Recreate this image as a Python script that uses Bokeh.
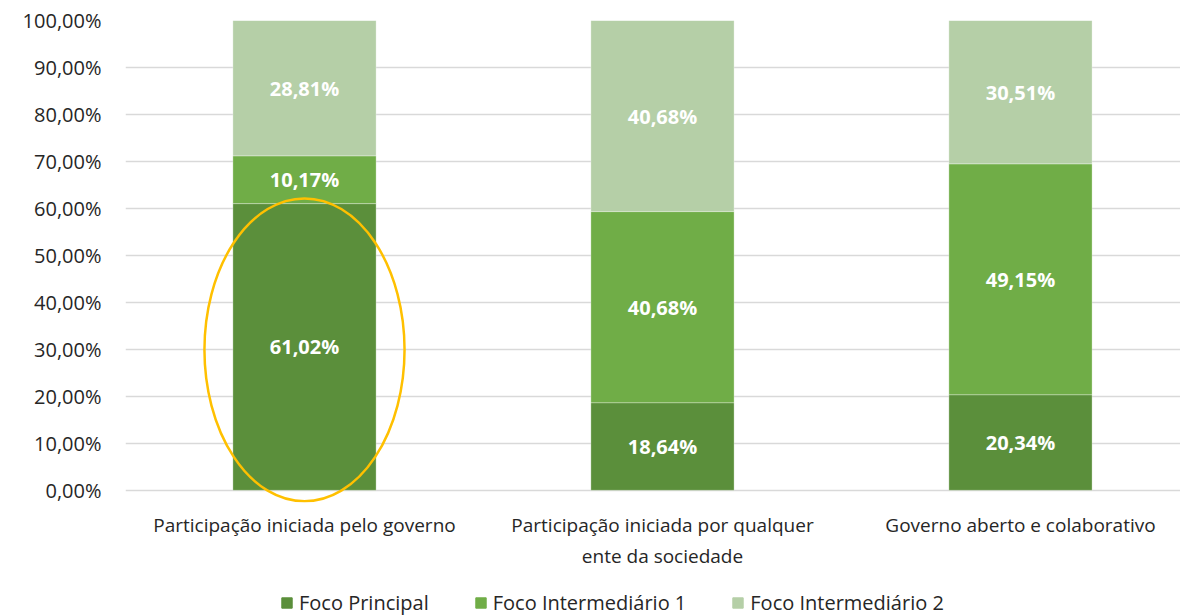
from bokeh.plotting import figure
from bokeh.models import (ColumnDataSource, Range1d, FixedTicker, Legend, LegendItem,
                          CustomJSTickFormatter)
from bokeh.layouts import column
from bokeh.core.properties import value
from bokeh.embed import file_html
from bokeh.resources import INLINE

categories = ["Participação iniciada pelo governo",
              "Participação iniciada por qualquer\nente da sociedade",
              "Governo aberto e colaborativo"]
series_names = ["Foco Principal", "Foco Intermediário 1", "Foco Intermediário 2"]
foco_principal = [61.02, 18.64, 20.34]
foco_intermediario_1 = [10.17, 40.68, 49.15]
foco_intermediario_2 = [28.81, 40.68, 30.51]
y_ticks = [0, 10, 20, 30, 40, 50, 60, 70, 80, 90, 100]

colors = ["#5B8F3B", "#70AD47", "#B5CFA7"]
FONT = "Open Sans"
TXT = "#262626"

xs = list(range(len(categories)))
src = ColumnDataSource(dict(x=xs, s0=foco_principal, s1=foco_intermediario_1, s2=foco_intermediario_2))

p = figure(width=1180, height=571, output_backend="svg", toolbar_location=None,
           x_range=Range1d(-0.5, 2.447), y_range=Range1d(-2.6, 100),
           min_border_left=125, min_border_right=0, min_border_top=20, min_border_bottom=68)
p.outline_line_color = None
p.background_fill_color = "white"

rs = p.vbar_stack(["s0", "s1", "s2"], x="x", width=0.4, source=src, color=colors,
                  line_color="white", line_width=0.6, line_alpha=0.5)

# data labels
lx, ly, lt = [], [], []
for i in xs:
    base = 0.0
    for vals in (foco_principal, foco_intermediario_1, foco_intermediario_2):
        v = vals[i]
        lx.append(i)
        ly.append(base + v / 2)
        lt.append(("%.2f" % v).replace(".", ",") + "%")
        base += v
p.text(x=lx, y=ly, text=lt, text_align="center", text_baseline="middle",
       text_color="white", text_font=value(FONT), text_font_style="bold", text_font_size="20px")

# highlight ellipse
p.ellipse(x=[0], y=[29.9], width=0.559, height=64.5, fill_alpha=0,
          line_color="#FFC000", line_width=2.5)

# axes
p.yaxis.ticker = FixedTicker(ticks=y_ticks)
p.yaxis.formatter = CustomJSTickFormatter(code="return tick.toFixed(2).replace('.', ',') + '%';")
p.yaxis.axis_line_color = None
p.yaxis.major_tick_line_color = None
p.yaxis.minor_tick_line_color = None
p.yaxis.major_tick_out = 0
p.yaxis.major_label_standoff = 24
p.yaxis.major_label_text_font = FONT
p.yaxis.major_label_text_font_size = "20px"
p.yaxis.major_label_text_color = TXT

p.xaxis.ticker = FixedTicker(ticks=xs)
p.xaxis.major_label_overrides = {i: c for i, c in zip(xs, categories)}
p.xaxis.axis_line_color = None
p.xaxis.major_tick_line_color = None
p.xaxis.minor_tick_line_color = None
p.xaxis.major_tick_out = 0
p.xaxis.major_label_standoff = 9
p.xaxis.major_label_text_font = FONT
p.xaxis.major_label_text_font_size = "19px"
p.xaxis.major_label_text_color = TXT

p.xgrid.visible = False
p.ygrid.grid_line_color = "#D9D9D9"
p.ygrid.grid_line_width = 1.5

# legend in a separate strip below
lg = figure(width=1180, height=45, output_backend="svg", toolbar_location=None,
            x_range=Range1d(0, 1), y_range=Range1d(0, 1),
            x_axis_location=None, y_axis_location=None,
            min_border_left=0, min_border_right=0, min_border_top=0, min_border_bottom=0)
lg.grid.visible = False
lg.outline_line_color = None
dummies = [lg.vbar(x=[5], bottom=[5], top=[6], width=0.1, color=c) for c in colors]
legend = Legend(items=[LegendItem(label=n, renderers=[r]) for n, r in zip(series_names, dummies)],
                orientation="horizontal", location=(155, 0),
                glyph_width=13, glyph_height=13, label_standoff=6, spacing=45,
                padding=0, margin=0, border_line_alpha=0, background_fill_alpha=0,
                label_text_font=FONT, label_text_font_size="20px", label_text_color=TXT)
lg.add_layout(legend, "center")

layout = column(p, lg, spacing=0)
open("out.html", "w").write(file_html(layout, INLINE))
